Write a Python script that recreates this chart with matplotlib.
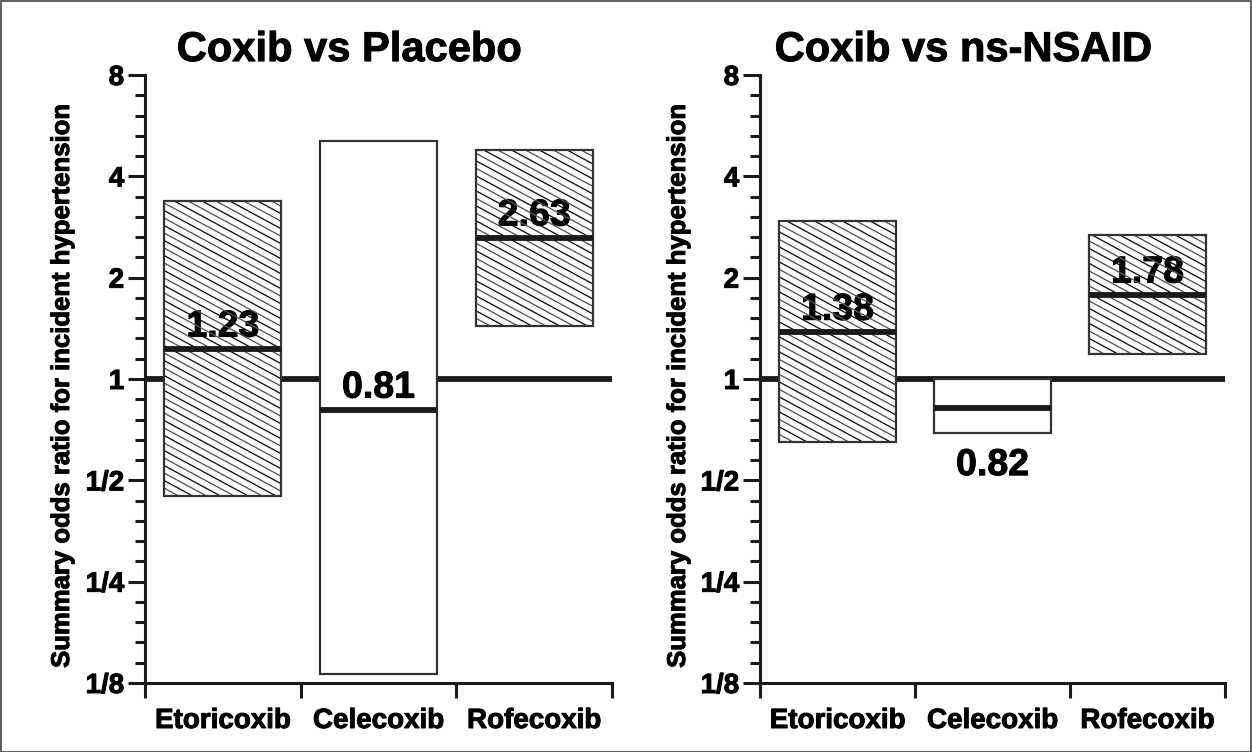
import matplotlib
matplotlib.use("Agg")
import matplotlib.pyplot as plt
import numpy as np
from matplotlib.patches import Rectangle
from matplotlib.ticker import FixedLocator, NullFormatter
from matplotlib.collections import LineCollection
from matplotlib.transforms import IdentityTransform
import matplotlib.patheffects as pe

plt.rcParams['font.family'] = ['Liberation Sans', 'DejaVu Sans']
plt.rcParams['font.weight'] = 'bold'

categories = ["Etoricoxib", "Celecoxib", "Rofecoxib"]

# Coxib vs Placebo
placebo_or = [1.23, 0.81, 2.63]
placebo_low = [0.45, 0.133, 1.44]
placebo_high = [3.38, 5.1, 4.8]
placebo_hatched = [True, False, True]

# Coxib vs ns-NSAID
nsaid_or = [1.38, 0.82, 1.78]
nsaid_low = [0.65, 0.69, 1.19]
nsaid_high = [2.95, 1.0, 2.68]
nsaid_hatched = [True, False, True]

ytick_vals = [1/8, 1/4, 1/2, 1, 2, 4, 8]
ytick_labels = ["1/8", "1/4", "1/2", "1", "2", "4", "8"]

titles = ["Coxib vs Placebo", "Coxib vs ns-NSAID"]
ylabel = "Summary odds ratio for incident hypertension"

heavy = [pe.withStroke(linewidth=0.7, foreground='black')]

fig = plt.figure(figsize=(12.52, 7.52), dpi=100)
fig.patches.append(Rectangle((0.0005, 0.0005), 0.999, 0.998, transform=fig.transFigure,
                             fill=False, edgecolor='#444444', lw=1.2))

W, H = 1252, 752
panels = [
    (145, 612, placebo_or, placebo_low, placebo_high, placebo_hatched, ["above", "above", "above"]),
    (760, 1225, nsaid_or, nsaid_low, nsaid_high, nsaid_hatched, ["above", "below", "above"]),
]


def add_shallow_hatch(ax, patch, spacing=7.5, slope=0.54):
    """Decorative hatch lines (upper-left to lower-right), clipped to the patch."""
    bb = patch.get_window_extent()
    x0, x1, y0, y1 = bb.x0, bb.x1, bb.y0, bb.y1
    segs, cols = [], []
    c = y0
    k = 0
    while c < y1 + slope * (x1 - x0) + spacing:
        segs.append([(x0, c), (x1, c - slope * (x1 - x0))])
        cols.append('#111111' if k % 2 == 0 else '#555555')
        c += spacing
        k += 1
    lc = LineCollection(segs, colors=cols, linewidths=0.95, transform=IdentityTransform(),
                        zorder=4)
    ax.add_collection(lc, autolim=False)
    lc.set_clip_path(patch)


bw = 0.75
for pi, (x0, x1, ors, lows, highs, hatched, lblpos) in enumerate(panels):
    ax = fig.add_axes([x0 / W, 1 - 683 / H, (x1 - x0) / W, (683 - 75) / H])
    ax.set_yscale('log', base=2)
    ax.set_ylim(1/8, 8)
    ax.set_xlim(-0.5, 2.5)
    for s in ['top', 'right']:
        ax.spines[s].set_visible(False)
    for s in ['left', 'bottom']:
        ax.spines[s].set_linewidth(2.2)
        ax.spines[s].set_color('#1a1a1a')

    # reference line at OR = 1
    ax.axhline(1, color='#1a1a1a', lw=4.2, zorder=1)

    for i in range(len(categories)):
        lo, hi, m = lows[i], highs[i], ors[i]
        # white background
        bg = ax.bar(i, hi - lo, bottom=lo, width=bw, color='white', edgecolor='none', zorder=2)
        # label
        if lblpos[i] == "above":
            ax.annotate(f"{m:.2f}", (i, m), xytext=(0, 3), textcoords='offset points',
                        ha='center', va='bottom', fontsize=27, fontweight='bold', zorder=3,
                        path_effects=heavy)
        else:
            ax.annotate(f"{m:.2f}", (i, lo), xytext=(0, -10), textcoords='offset points',
                        ha='center', va='top', fontsize=27, fontweight='bold', zorder=3,
                        path_effects=heavy)
        if hatched[i]:
            add_shallow_hatch(ax, bg.patches[0])
        # edge on top
        ax.bar(i, hi - lo, bottom=lo, width=bw, facecolor='none', edgecolor='#333333',
               lw=1.6, zorder=4.5)
        # median line
        ax.plot([i - bw / 2, i + bw / 2], [m, m], color='#1a1a1a', lw=4.2,
                solid_capstyle='butt', zorder=5)

    ax.yaxis.set_major_locator(FixedLocator(ytick_vals))
    ax.set_yticklabels(ytick_labels)
    minors = [2 ** (k / 5) for k in range(-15, 16) if k % 5 != 0]
    ax.yaxis.set_minor_locator(FixedLocator(minors))
    ax.yaxis.set_minor_formatter(NullFormatter())
    ax.tick_params(axis='y', which='major', length=12, width=2.2, labelsize=20, pad=3,
                   color='#1a1a1a')
    ax.tick_params(axis='y', which='minor', length=7, width=2.2, color='#1a1a1a')
    for t in ax.get_yticklabels():
        t.set_fontweight('bold')
        t.set_path_effects(heavy)

    ax.set_xticks([-0.5, 0.5, 1.5, 2.5])
    ax.set_xticklabels([])
    ax.set_xticks(range(len(categories)), minor=True)
    ax.set_xticklabels(categories, minor=True)
    ax.tick_params(axis='x', which='major', length=11, width=2.2, color='#1a1a1a')
    ax.tick_params(axis='x', which='minor', length=0, labelsize=20, pad=18)
    for t in ax.get_xticklabels(minor=True):
        t.set_fontweight('bold')
        t.set_path_effects(heavy)

    ax.set_ylabel(ylabel, fontsize=18.5, fontweight='bold', va='center',
                  path_effects=heavy)
    ax.yaxis.set_label_coords(-(x0 - 62 - (0 if pi == 0 else 616)) / (x1 - x0), 0.49)

    ax.text(0.437, 1.041, titles[pi], transform=ax.transAxes, ha='center', va='center',
            fontsize=30, fontweight='bold', path_effects=heavy)

fig.savefig("out.png", dpi=100)
